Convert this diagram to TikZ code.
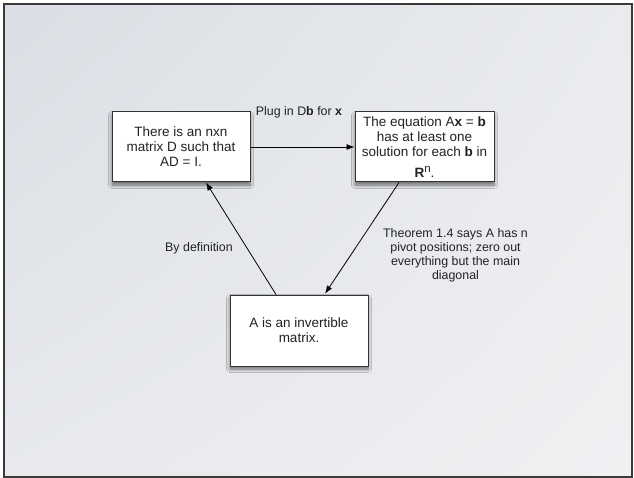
\documentclass[tikz,border=0pt]{standalone}
\usepackage{fontspec}
\setmainfont{Liberation Sans}
\usetikzlibrary{arrows.meta,shadows.blur,calc,shadings}

\definecolor{inkdark}{HTML}{222222}
\definecolor{framegray}{HTML}{3A3A3A}
\definecolor{boxedge}{HTML}{333333}
\definecolor{bgUL}{RGB}{218,222,228}
\definecolor{bgUR}{RGB}{233,235,238}
\definecolor{bgLL}{RGB}{231,233,237}
\definecolor{bgLR}{RGB}{239,240,242}

\tikzset{
  stepbox/.style={draw=boxedge, line width=1pt, fill=white, inner sep=0pt,
    align=center, text=inkdark,
    font=\fontsize{13.5}{15}\selectfont,
    blur shadow={shadow xshift=0pt, shadow yshift=-3pt,
      shadow blur radius=3.5pt, shadow blur steps=8, shadow opacity=55}},
  edgelabel/.style={inner sep=0pt, align=center, text=inkdark,
    font=\fontsize{12.4}{14}\selectfont},
  implies/.style={draw=black, line width=0.8pt,
    -{Latex[length=8pt,width=6pt]}}
}

\begin{document}
\begin{tikzpicture}[x=1pt,y=-1pt]
  % page and slide background
  \useasboundingbox (0,0) rectangle (634,478);
  \fill[white] (0,0) rectangle (634,478);
  \shade[upper left=bgUL, upper right=bgUR, lower left=bgLL, lower right=bgLR]
    (4,4) rectangle (632,477);
  \draw[framegray, line width=1.5pt] (4,4) rectangle (632,477);

  % the three statements
  \node[stepbox, minimum width=138pt, minimum height=70pt] (dmat) at (181,147)
    {There is an nxn\\ matrix D such that\\ AD = I.};
  \node[stepbox, minimum width=139pt, minimum height=70pt] (eqn) at (424.5,147)
    {\fontsize{13.5}{14.3}\selectfont The equation A\textbf{x} = \textbf{b}\\
     has at least one\\ solution for each \textbf{b} in\\[6pt]
     \textbf{R}\raisebox{5pt}{\fontsize{11.5}{12}\selectfont n}.};
  \node[stepbox, minimum width=138pt, minimum height=71pt] (inv) at (299,330.5)
    {A is an invertible\\ matrix.};

  % implications between them
  \draw[implies] (dmat.east) -- (eqn.west);
  \draw[implies, shorten >=1pt]
    ($(eqn.south west)+(44.5,0)$) -- ($(inv.north west)+(95,0)$);
  \draw[implies]
    ($(inv.north west)+(46.5,0)$) -- ($(dmat.south west)+(94.5,0)$);

  % reasons for each step
  \node[edgelabel, anchor=base] (plug) at (299,116)
    {Plug in D\textbf{b} for \textbf{x}};
  \node[edgelabel, anchor=north] (thm) at (455.5,228)
    {Theorem 1.4 says A has n\\ pivot positions; zero out\\
     everything but the main\\ diagonal};
  \node[edgelabel, anchor=base] (bydef) at (199,251.7) {By definition};
\end{tikzpicture}
\end{document}
